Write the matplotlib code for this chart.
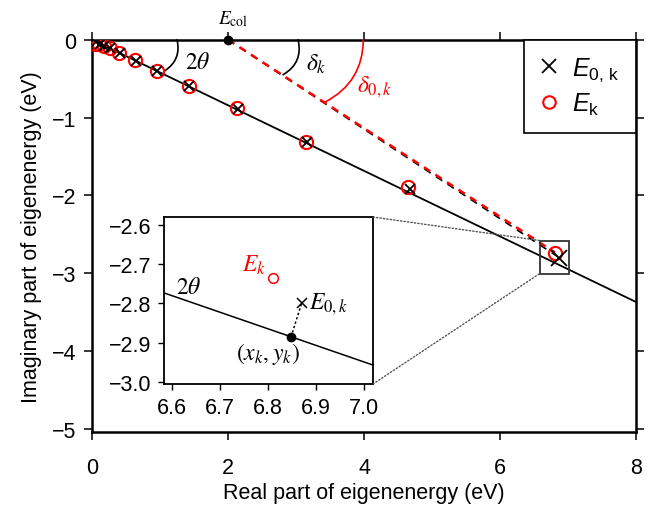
import numpy as np
import matplotlib
matplotlib.use('Agg')
import matplotlib.pyplot as plt
from matplotlib.lines import Line2D
from matplotlib.patches import Rectangle, ConnectionPatch
from matplotlib.font_manager import FontProperties

plt.rcParams['font.family'] = ['Liberation Sans', 'DejaVu Sans']
plt.rcParams['mathtext.fontset'] = 'custom'
plt.rcParams['mathtext.rm'] = 'Liberation Sans'
plt.rcParams['mathtext.it'] = 'Liberation Sans:italic'

# resonance energies (eV): complex-scaled E_k and unscaled E_0,k
Ek_re = [0.05, 0.11, 0.17, 0.26, 0.40, 0.63, 0.95, 1.42, 2.13, 3.15, 4.65, 6.81]
Ek_im = [-0.05, -0.06, -0.08, -0.11, -0.17, -0.26, -0.40, -0.60, -0.88, -1.31, -1.89, -2.735]
E0_re = [0.06, 0.12, 0.18, 0.27, 0.41, 0.64, 0.96, 1.43, 2.14, 3.16, 4.67, 6.87]
E0_im = [-0.03, -0.06, -0.08, -0.11, -0.17, -0.27, -0.40, -0.60, -0.89, -1.32, -1.92, -2.80]

# rotated continuum line and the projection point on it
line_re = [0.0, 8.0]
line_im = [0.0, -3.37]
xk, yk = 6.848, -2.885
Ecol = (2.0, 0.0)

xticks_main = [0, 2, 4, 6, 8]
yticks_main = [0, -1, -2, -3, -4, -5]
xticks_ins = [6.6, 6.7, 6.8, 6.9, 7.0]
yticks_ins = [-2.6, -2.7, -2.8, -2.9, -3.0]
ins_xlim = (6.583, 7.019)
ins_ylim = (-3.005, -2.58)

fig = plt.figure(figsize=(6.52, 5.06), dpi=100)
ax = fig.add_axes([0.1411, 0.1443, 0.8344, 0.7753])

ax.plot(line_re, line_im, color='black', lw=1.3, zorder=2)
ax.plot([Ecol[0], E0_re[-1]], [Ecol[1], E0_im[-1]], color='black', lw=1.2,
        dashes=(4.5, 3.8), zorder=2)
ax.plot([Ecol[0], Ek_re[-1]], [Ecol[1], Ek_im[-1]], color='red', lw=1.8,
        dashes=(3.0, 2.5), zorder=3)
ax.plot(Ek_re, Ek_im, 'o', mfc='none', mec='red', ms=9.5, mew=1.5, zorder=4)
ax.plot(E0_re[:-1], E0_im[:-1], 'x', color='black', ms=7, mew=1.3, zorder=5)
ax.plot(E0_re[-1:], E0_im[-1:], 'x', color='black', ms=11, mew=1.3, zorder=5)
ax.plot([Ecol[0]], [Ecol[1]], 'o', color='black', ms=6, clip_on=False, zorder=6)

stix = dict(math_fontfamily='stix', fontsize=17)
ax.text(2.07, 0.28, r'$E_{\rm col}$', ha='center', va='center',
        math_fontfamily='stix', fontsize=14, clip_on=False)
ax.text(1.56, -0.29, r'$2\theta$', ha='center', va='center', **stix)
ax.text(3.30, -0.31, r'$\delta_k$', ha='center', va='center', **stix)
ax.text(4.15, -0.60, r'$\delta_{0,k}$', ha='center', va='center', color='red', **stix)

arc = dict(arrowstyle='-', shrinkA=0, shrinkB=0, lw=1.2)
ax.annotate('', xy=(1.07, -0.40), xytext=(1.25, 0.0),
            arrowprops=dict(connectionstyle='arc3,rad=-0.35', color='black', **arc))
ax.annotate('', xy=(2.81, -0.45), xytext=(3.03, 0.0),
            arrowprops=dict(connectionstyle='arc3,rad=-0.37', color='black', **arc))
ax.annotate('', xy=(3.43, -0.80), xytext=(3.99, 0.0),
            arrowprops=dict(connectionstyle='arc3,rad=-0.30', color='red', **arc))

ax.add_patch(Rectangle((ins_xlim[0], ins_ylim[0]), ins_xlim[1] - ins_xlim[0],
                       ins_ylim[1] - ins_ylim[0], fill=False, ec='#333333', lw=1.3, zorder=6))

ax.set_xlim(0, 8)
ax.set_ylim(-5.04, 0)
ax.set_xticks(xticks_main)
ax.set_yticks(yticks_main)
ax.set_yticklabels(['0' if v == 0 else '\u2212%d' % abs(v) for v in yticks_main])
ax.tick_params(direction='out', top=True, right=True, length=6, width=1.1,
               labelsize=15.5, pad=12)
ax.tick_params(axis='y', pad=5)
for s in ax.spines.values():
    s.set_linewidth(1.8)
ax.set_xlabel('Real part of eigenenergy (eV)', fontsize=15.5, labelpad=3)
ax.set_ylabel('Imaginary part of eigenenergy (eV)', fontsize=15.5, labelpad=7)

handles = [Line2D([], [], marker='x', ls='none', color='black', ms=10, mew=1.3),
           Line2D([], [], marker='o', ls='none', mfc='none', mec='red', ms=9, mew=1.5)]
leg = ax.legend(handles, [r'$E_{\mathrm{0,\,k}}$', r'$E_{\mathrm{k}}$'],
                loc='upper right', borderaxespad=0, fancybox=False, framealpha=1,
                edgecolor='black', prop=FontProperties(size=18), handlelength=0.7,
                handletextpad=0.6, borderpad=0.65, labelspacing=0.3)
leg.get_frame().set_linewidth(1.2)

# inset zoom
axi = fig.add_axes([0.2515, 0.2391, 0.3206, 0.3300])
axi.plot(line_re, line_im, color='black', lw=1.1)
axi.plot([xk, E0_re[-1]], [yk, E0_im[-1]], color='black', lw=1.1, ls=(0, (1.5, 1.5)))
axi.plot([xk], [yk], 'o', color='black', ms=6)
axi.plot(E0_re[-1:], E0_im[-1:], 'x', color='black', ms=7, mew=1.1)
axi.plot(Ek_re[-1:], Ek_im[-1:], 'o', mfc='none', mec='red', ms=7, mew=1.1)
axi.text(6.77, -2.70, r'$E_k$', color='red', ha='center', va='center', **stix)
axi.text(6.885, -2.80, r'$E_{0,k}$', ha='left', va='center', **stix)
axi.text(6.80, -2.925, r'$(x_k, y_k)$', ha='center', va='center', **stix)
axi.text(6.635, -2.757, r'$2\theta$', ha='center', va='center', **stix)
axi.set_xlim(*ins_xlim)
axi.set_ylim(*ins_ylim)
axi.set_xticks(xticks_ins)
axi.set_yticks(yticks_ins)
axi.set_xticklabels(['%.1f' % v for v in xticks_ins])
axi.set_yticklabels(['\u2212%.1f' % abs(v) for v in yticks_ins])
axi.tick_params(direction='out', length=4, width=1.0, labelsize=15.5, pad=5)
for s in axi.spines.values():
    s.set_linewidth(1.3)

for ya, yb in [(1, ins_ylim[1]), (0, ins_ylim[0])]:
    con = ConnectionPatch(xyA=(1, ya), coordsA=axi.transAxes,
                          xyB=(ins_xlim[0], yb), coordsB=ax.transData,
                          color='#555555', lw=1.0, ls=(0, (1, 1.5)))
    fig.add_artist(con)

fig.savefig('out.png', dpi=100)
